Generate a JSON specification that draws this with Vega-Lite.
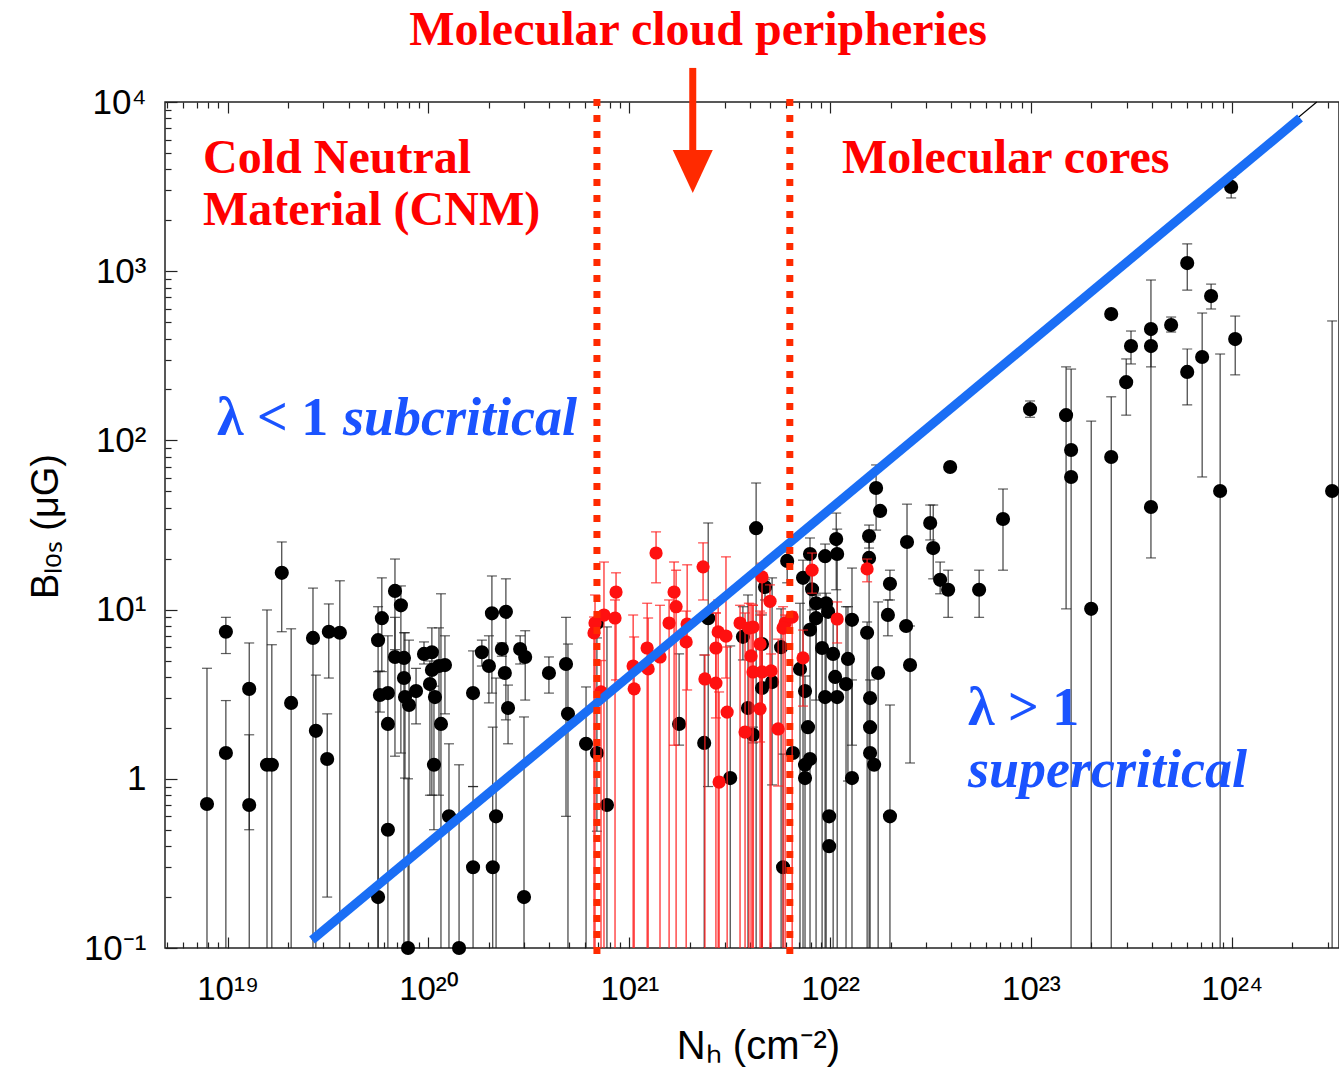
{
  "$schema": "https://vega.github.io/schema/vega-lite/v6.json",
  "width": 1174,
  "height": 846,
  "autosize": "none",
  "padding": {"left": 165, "top": 102, "right": 0, "bottom": 119},
  "background": "white",
  "config": {
    "view": {"stroke": "#222", "strokeWidth": 1.5},
    "axis": {"domain": false, "grid": false, "tickColor": "#222", "tickWidth": 1.2, "labelFont": "Liberation Sans", "labelFontSize": 32, "labelColor": "black", "titleFont": "Liberation Sans", "titleFontWeight": "normal", "titleColor": "black", "labelFlush": false, "labelOverlap": false, "labelBound": false}
  },
  "datasets": {
    "k": [
      {"n":7.89e18,"b":0.71,"lo":0.1,"hi":4.5},{"n":9.8e18,"b":7.4,"lo":5.5,"hi":9.0},{"n":9.8e18,"b":1.42,"lo":0.1,"hi":2.9},
      {"n":1.28e19,"b":3.4,"lo":0.1,"hi":6.35},{"n":1.28e19,"b":0.7,"lo":0.5,"hi":1.82},{"n":1.57e19,"b":1.21,"lo":0.1,"hi":9.95},
      {"n":1.66e19,"b":1.21,"lo":0.1,"hi":6.2},{"n":1.86e19,"b":16.5,"lo":7.4,"hi":25.1},{"n":2.07e19,"b":2.81,"lo":0.1,"hi":7.7},
      {"n":2.66e19,"b":6.8,"lo":0.1,"hi":13.4},{"n":2.75e19,"b":1.92,"lo":0.1,"hi":4.1},{"n":3.19e19,"b":7.4,"lo":3.94,"hi":10.8},
      {"n":3.13e19,"b":1.31,"lo":0.2,"hi":2.42},{"n":3.62e19,"b":7.3,"lo":0.1,"hi":14.8},{"n":5.61e19,"b":6.6,"lo":0.1,"hi":10.4},
      {"n":5.86e19,"b":8.9,"lo":4.3,"hi":15.4},{"n":5.73e19,"b":3.13,"lo":2.48,"hi":4.34},{"n":6.28e19,"b":3.21,"lo":0.1,"hi":7.0},
      {"n":6.28e19,"b":2.11},{"n":6.28e19,"b":0.5},{"n":6.81e19,"b":12.9,"lo":5.8,"hi":19.9},{"n":7.29e19,"b":10.6,"lo":1.42,"hi":13.8},
      {"n":6.81e19,"b":5.25,"lo":1.36,"hi":9.0},{"n":7.55e19,"b":5.18,"lo":0.1,"hi":7.3},{"n":7.55e19,"b":3.94},
      {"n":7.64e19,"b":3.04,"lo":1.01,"hi":7.3},{"n":8.0e19,"b":2.73,"lo":0.1,"hi":6.6},{"n":8.67e19,"b":3.3,"lo":2.11,"hi":4.5},
      {"n":9.5e19,"b":5.47,"lo":4.77,"hi":6.44},{"n":1.04e20,"b":5.6,"lo":0.8,"hi":7.8},{"n":1.04e20,"b":4.4},
      {"n":1.128e20,"b":4.64,"lo":0.8,"hi":7.8},{"n":1.208e20,"b":4.7,"lo":2.42,"hi":7.0},{"n":1.017e20,"b":3.63,"lo":0.8,"hi":4.97},
      {"n":1.077e20,"b":3.04},{"n":1.154e20,"b":2.11,"lo":0.1,"hi":12.4},{"n":1.065e20,"b":1.21,"lo":0.5,"hi":3.53},
      {"n":1.265e20,"b":0.6,"lo":0.1,"hi":1.61},{"n":5.61e19,"b":0.2,"lo":0.1,"hi":4.3},{"n":7.91e19,"b":0.1,"lo":0.1,"hi":1.0},
      {"n":1.42e20,"b":0.1,"lo":0.1,"hi":1.21},{"n":1.667e20,"b":3.21,"lo":0.9,"hi":5.7},{"n":1.667e20,"b":0.3,"lo":0.1,"hi":0.9},
      {"n":1.845e20,"b":5.6,"lo":4.64,"hi":6.6},{"n":2.0e20,"b":4.64,"lo":2.81,"hi":7.0},{"n":2.07e20,"b":9.5,"lo":3.21,"hi":15.8},
      {"n":2.43e20,"b":9.7,"lo":2.23,"hi":15.2},{"n":2.32e20,"b":5.85,"lo":5.3,"hi":6.35},{"n":2.4e20,"b":4.22},
      {"n":2.49e20,"b":2.62,"lo":1.61,"hi":3.58},{"n":2.09e20,"b":0.3,"lo":0.1,"hi":2.02},{"n":2.17e20,"b":0.6,"lo":0.1,"hi":3.94},
      {"n":2.86e20,"b":5.85,"lo":4.77,"hi":7.0},{"n":3.03e20,"b":5.25,"lo":2.92,"hi":7.5},{"n":2.99e20,"b":0.2,"lo":0.1,"hi":2.32},
      {"n":3.98e20,"b":4.22,"lo":3.21,"hi":5.25},{"n":4.84e20,"b":4.77,"lo":0.6,"hi":9.0},{"n":4.95e20,"b":2.42,"lo":0.1,"hi":6.26},
      {"n":6.09e20,"b":1.61,"lo":0.1,"hi":3.49},{"n":6.9e20,"b":1.42,"lo":0.49,"hi":6.8},{"n":7.74e20,"b":0.7,"lo":0.1,"hi":7.9},
      {"n":6.9e20,"b":8.33},{"n":4.28e21,"b":30.3,"lo":0.1,"hi":56},{"n":1.77e21,"b":2.11,"lo":1.58,"hi":5.47},
      {"n":2.36e21,"b":1.63,"lo":0.1,"hi":5.39},{"n":3.18e21,"b":1.01,"lo":0.1,"hi":6.1},{"n":2.47e21,"b":8.9,"lo":0.9,"hi":32.5},
      {"n":3.68e21,"b":6.9,"lo":5.04,"hi":10.4},{"n":4.58e21,"b":6.26,"lo":0.1,"hi":9.3},{"n":5.7e21,"b":6.0,"lo":0.1,"hi":10.1},
      {"n":4.58e21,"b":3.44,"lo":0.1,"hi":15.0},{"n":5.14e21,"b":3.73,"lo":0.92,"hi":15.4},{"n":3.9e21,"b":2.62,"lo":0.1,"hi":12.2},
      {"n":4.13e21,"b":1.82,"lo":1.63,"hi":2.02},{"n":4.74e21,"b":13.6,"lo":11.4,"hi":15.0},{"n":6.11e21,"b":19.4,"lo":14.4,"hi":21.9},
      {"n":6.53e21,"b":1.42},{"n":5.83e21,"b":0.3,"lo":0.1,"hi":1.4},{"n":1.694e22,"b":52.3,"lo":29.5,"hi":71.6},
      {"n":1.774e22,"b":38.3},{"n":1.072e22,"b":26.1,"lo":13.1,"hi":37.2},{"n":1.563e22,"b":27.2,"lo":23.1,"hi":31.6},
      {"n":1.563e22,"b":20.2,"lo":0.1,"hi":25.1},{"n":7.94e21,"b":21.3,"lo":0.1,"hi":26.5},{"n":9.44e21,"b":20.7,"lo":0.1,"hi":24.4},
      {"n":1.084e22,"b":21.3,"lo":0.1,"hi":29.9},{"n":7.33e21,"b":15.4,"lo":0.1,"hi":19.6},{"n":8.13e21,"b":13.2,"lo":9.95,"hi":17.1},
      {"n":8.51e21,"b":10.9,"lo":0.1,"hi":12.5},{"n":9.55e21,"b":10.9,"lo":0.1,"hi":12.5},{"n":8.51e21,"b":8.9,"lo":2.92,"hi":12.2},
      {"n":9.77e21,"b":9.7},{"n":1.285e22,"b":8.7,"lo":1.58,"hi":17.6},{"n":1.528e22,"b":7.3,"lo":0.1,"hi":8.45},
      {"n":7.94e21,"b":7.6},{"n":9.12e21,"b":5.93,"lo":0.1,"hi":10.1},{"n":1.035e22,"b":5.47,"lo":0.1,"hi":9.4},
      {"n":1.227e22,"b":5.11,"lo":0.97,"hi":10.4},{"n":1.059e22,"b":4.0},{"n":1.2e22,"b":3.63,"lo":0.1,"hi":10.4},
      {"n":1.734e22,"b":4.22,"lo":0.1,"hi":11.1},{"n":7.08e21,"b":4.46,"lo":0.1,"hi":10.9},{"n":7.5e21,"b":3.3,"lo":0.1,"hi":4.05},
      {"n":9.44e21,"b":3.04},{"n":1.084e22,"b":3.04},{"n":1.581e22,"b":3.0,"lo":0.1,"hi":3.84},
      {"n":7.76e21,"b":2.02},{"n":1.581e22,"b":2.02},{"n":7.5e21,"b":1.21},{"n":7.94e21,"b":1.31},{"n":7.5e21,"b":1.01},
      {"n":1.581e22,"b":1.42},{"n":1.656e22,"b":1.21},{"n":1.285e22,"b":1.01,"lo":0.1,"hi":3.84},{"n":9.89e21,"b":0.6},
      {"n":9.89e21,"b":0.4},{"n":1.986e22,"b":0.6,"lo":0.1,"hi":2.73},{"n":1.986e22,"b":14.2,"lo":11.4,"hi":17.1},
      {"n":1.94e22,"b":9.3,"lo":7.0,"hi":11.4},{"n":2.415e22,"b":25.1,"lo":8.0,"hi":42},{"n":2.39e22,"b":8.0},
      {"n":2.5e22,"b":4.7,"lo":1.24,"hi":8.0},{"n":3.15e22,"b":32.5,"lo":25.8,"hi":41.5},{"n":3.26e22,"b":23.1,"lo":15.2,"hi":41.5},
      {"n":3.53e22,"b":15.0,"lo":12.4,"hi":19.1},{"n":3.87e22,"b":13.1,"lo":9.0,"hi":17.1},{"n":5.52e22,"b":13.1,"lo":9.0,"hi":17.1},
      {"n":7.26e22,"b":34.3,"lo":17.1,"hi":51.6},{"n":3.96e22,"b":69.6},{"n":9.9e22,"b":153,"lo":137,"hi":171},
      {"n":1.496e23,"b":141,"lo":10.1,"hi":272},{"n":1.585e23,"b":87.7,"lo":0.1,"hi":264},{"n":1.585e23,"b":60.8},
      {"n":2.51e23,"b":79.8,"lo":0.1,"hi":181},{"n":1.995e23,"b":10.1,"lo":0.1,"hi":130},{"n":3.96e23,"b":40.4,"lo":20.2,"hi":361},
      {"n":8.75e23,"b":50.2,"lo":0.1,"hi":324},{"n":3.16e24,"b":50.2,"lo":0.1,"hi":508},{"n":9.93e23,"b":3148,"lo":2710,"hi":3606},
      {"n":6.0e23,"b":1117,"lo":774,"hi":1449},{"n":7.89e23,"b":713,"lo":598,"hi":839},{"n":2.51e23,"b":558},
      {"n":3.96e23,"b":455,"lo":361,"hi":887},{"n":3.96e23,"b":361,"lo":272,"hi":455},{"n":4.99e23,"b":481,"lo":437,"hi":536},
      {"n":3.15e23,"b":361,"lo":283,"hi":443},{"n":2.98e23,"b":221,"lo":141,"hi":303},{"n":6.0e23,"b":254,"lo":162,"hi":347},
      {"n":7.12e23,"b":311,"lo":60.8,"hi":566},{"n":1.04e24,"b":397,"lo":244,"hi":543}
    ],
    "r": [
      {"n":6.67e20,"b":7.28,"lo":0.1,"hi":9.04},{"n":6.75e20,"b":8.33,"lo":0.1,"hi":12.2},{"n":7.48e20,"b":9.29,"lo":0.1,"hi":19.1},
      {"n":8.59e20,"b":12.7,"lo":3.84,"hi":16.5},{"n":8.49e20,"b":8.92,"lo":0.1,"hi":11.4},{"n":7.23e20,"b":3.26,"lo":0.1,"hi":5.0},
      {"n":1.045e21,"b":4.64,"lo":0.1,"hi":9.29},{"n":1.057e21,"b":3.4,"lo":0.1,"hi":6.89},{"n":1.227e21,"b":5.93,"lo":0.1,"hi":10.9},
      {"n":1.241e21,"b":4.46,"lo":0.1,"hi":8.92},{"n":1.359e21,"b":21.6,"lo":14.4,"hi":28.8},{"n":1.671e21,"b":12.7,"lo":1.58,"hi":19.1},
      {"n":1.71e21,"b":10.4,"lo":0.1,"hi":17.1},{"n":1.578e21,"b":8.33,"lo":0.1,"hi":11.4},{"n":1.941e21,"b":8.22,"lo":3.35,"hi":18.4},
      {"n":1.919e21,"b":6.44,"lo":0.1,"hi":9.8},{"n":1.422e21,"b":5.25,"lo":0.1,"hi":10.6},{"n":2.33e21,"b":17.9,"lo":11.4,"hi":24.8},
      {"n":2.38e21,"b":3.89,"lo":0.1,"hi":5.39},{"n":2.7e21,"b":3.68,"lo":0.1,"hi":9.55},{"n":2.7e21,"b":5.93,"lo":2.29,"hi":9.55},
      {"n":2.77e21,"b":7.38,"lo":0.1,"hi":11.4},{"n":3.03e21,"b":6.98,"lo":3.94,"hi":20.5},{"n":3.07e21,"b":2.48,"lo":0.1,"hi":6.01},
      {"n":2.8e21,"b":0.957,"lo":0.1,"hi":3.26},{"n":3.56e21,"b":8.33,"lo":0.1,"hi":10.6},{"n":3.77e21,"b":1.89,"lo":0.1,"hi":9.55},
      {"n":3.94e21,"b":7.78,"lo":0.1,"hi":10.9},{"n":4.04e21,"b":5.32,"lo":0.1,"hi":10.8},{"n":4.13e21,"b":7.89,"lo":0.1,"hi":10.6},
      {"n":4.48e21,"b":6.26,"lo":0.1,"hi":9.8},{"n":4.13e21,"b":4.28,"lo":0.1,"hi":10.6},{"n":4.58e21,"b":4.28,"lo":0.1,"hi":9.55},
      {"n":5.08e21,"b":4.34,"lo":0.1,"hi":5.47},{"n":4.48e21,"b":2.59,"lo":1.65,"hi":9.29},{"n":5.02e21,"b":11.2,"lo":0.1,"hi":14.0},
      {"n":4.58e21,"b":15.6,"lo":0.1,"hi":18.8},{"n":5.51e21,"b":1.97,"lo":0.906,"hi":6.69},{"n":5.97e21,"b":8.33,"lo":0.1,"hi":9.29},
      {"n":6.47e21,"b":9.04,"lo":0.1,"hi":9.68},{"n":7.33e21,"b":5.18,"lo":2.69,"hi":7.57},{"n":8.13e21,"b":17.1,"lo":12.5,"hi":21.6},
      {"n":1.528e22,"b":17.4,"lo":14.6,"hi":19.9},{"n":1.084e22,"b":8.8,"lo":6.35,"hi":11.1},{"n":5.83e21,"b":7.78,"lo":0.1,"hi":10.4}
    ]
  },
  "resolve": {"axis": {"x": "independent", "y": "independent"}},
  "layer": [
    {
      "data": {"name": "k"},
      "transform": [{"filter": "isValid(datum.hi)"}],
      "mark": {"type": "rule", "stroke": "#1a1a1a", "strokeWidth": 1},
      "encoding": {
        "x": {"field": "n", "type": "quantitative", "scale": {"type": "log", "domain": [4.875e18, 3.42e24], "nice": false},
              "axis": {"orient": "bottom", "values": [5e18,6e18,7e18,8e18,9e18,2e19,3e19,4e19,5e19,6e19,7e19,8e19,9e19,2e20,3e20,4e20,5e20,6e20,7e20,8e20,9e20,2e21,3e21,4e21,5e21,6e21,7e21,8e21,9e21,2e22,3e22,4e22,5e22,6e22,7e22,8e22,9e22,2e23,3e23,4e23,5e23,6e23,7e23,8e23,9e23,2e24,3e24], "labels": false, "tickSize": -6, "title": null}},
        "y": {"field": "lo", "type": "quantitative", "scale": {"type": "log", "domain": [0.1, 10000], "nice": false},
              "axis": {"orient": "left", "values": [0.2,0.3,0.4,0.5,0.6,0.7,0.8,0.9,2,3,4,5,6,7,8,9,20,30,40,50,60,70,80,90,200,300,400,500,600,700,800,900,2000,3000,4000,5000,6000,7000,8000,9000], "labels": false, "tickSize": -6, "title": null}},
        "y2": {"field": "hi"}
      }
    },
    {
      "data": {"name": "k"},
      "transform": [{"fold": ["lo", "hi"], "as": ["key", "val"]}, {"filter": "isValid(datum.val) && datum.val > 0.1001"}],
      "mark": {"type": "tick", "orient": "horizontal", "size": 10, "thickness": 1.2, "color": "#1a1a1a"},
      "encoding": {
        "x": {"field": "n", "type": "quantitative", "axis": null},
        "y": {"field": "val", "type": "quantitative", "axis": null}
      }
    },
    {
      "data": {"name": "k"},
      "mark": {"type": "circle", "size": 200, "color": "black", "opacity": 1},
      "encoding": {
        "x": {"field": "n", "type": "quantitative",
              "axis": {"orient": "bottom", "values": [1e19,1e20,1e21,1e22,1e23,1e24], "tickSize": -11, "labelPadding": 36, "labelFontSize": 33,
                       "labelExpr": "datum.value == 1e19 ? '10¹⁹' : datum.value == 1e20 ? '10²⁰' : datum.value == 1e21 ? '10²¹' : datum.value == 1e22 ? '10²²' : datum.value == 1e23 ? '10²³' : '10²⁴'",
                       "title": "Nₕ (cm⁻²)", "titleFontSize": 40, "titleX": 593, "titleY": 110, "titleBaseline": "alphabetic", "titleAlign": "center"}},
        "y": {"field": "b", "type": "quantitative",
              "axis": {"orient": "left", "values": [0.1,1,10,100,1000,10000], "tickSize": -12, "labelPadding": 31, "labelFontSize": 35,
                       "labelExpr": "datum.value == 0.1 ? '10⁻¹' : datum.value == 1 ? '1' : datum.value == 10 ? '10¹' : datum.value == 100 ? '10²' : datum.value == 1000 ? '10³' : '10⁴'",
                       "labelBaseline": "middle",
                       "title": "Bₗₒₛ (μG)", "titleFontSize": 38, "titleAngle": -90, "titleX": -108, "titleY": 424, "titleBaseline": "alphabetic", "titleAlign": "center"}}
      }
    },
    {
      "data": {"name": "r"},
      "transform": [{"filter": "isValid(datum.hi)"}],
      "mark": {"type": "rule", "stroke": "#ff2020", "strokeWidth": 1.2},
      "encoding": {
        "x": {"field": "n", "type": "quantitative",
              "axis": {"orient": "top", "values": [5e18,6e18,7e18,8e18,9e18,2e19,3e19,4e19,5e19,6e19,7e19,8e19,9e19,2e20,3e20,4e20,5e20,6e20,7e20,8e20,9e20,2e21,3e21,4e21,5e21,6e21,7e21,8e21,9e21,2e22,3e22,4e22,5e22,6e22,7e22,8e22,9e22,2e23,3e23,4e23,5e23,6e23,7e23,8e23,9e23,2e24,3e24], "labels": false, "tickSize": -6, "title": null}},
        "y": {"field": "lo", "type": "quantitative", "axis": null},
        "y2": {"field": "hi"}
      }
    },
    {
      "data": {"name": "r"},
      "transform": [{"fold": ["lo", "hi"], "as": ["key", "val"]}, {"filter": "isValid(datum.val) && datum.val > 0.1001"}],
      "mark": {"type": "tick", "orient": "horizontal", "size": 10, "thickness": 1.4, "color": "#ff2020"},
      "encoding": {
        "x": {"field": "n", "type": "quantitative", "axis": null},
        "y": {"field": "val", "type": "quantitative", "axis": null}
      }
    },
    {
      "data": {"name": "r"},
      "mark": {"type": "circle", "size": 175, "color": "#ff1010", "opacity": 1},
      "encoding": {
        "x": {"field": "n", "type": "quantitative",
              "axis": {"orient": "top", "values": [1e19,1e20,1e21,1e22,1e23,1e24], "labels": false, "tickSize": -11, "title": null}},
        "y": {"field": "b", "type": "quantitative", "axis": null}
      }
    },
    {
      "data": {"values": [{"n": 2.63e19, "b": 0.1114}, {"n": 2.65e24, "b": 10000}]},
      "mark": {"type": "line", "color": "black", "strokeWidth": 1.2},
      "encoding": {
        "x": {"field": "n", "type": "quantitative", "axis": null},
        "y": {"field": "b", "type": "quantitative", "axis": null}
      }
    },
    {
      "data": {"values": [{"n": 2.63e19, "b": 0.1114}, {"n": 2.188e24, "b": 8040}]},
      "mark": {"type": "line", "color": "#1a6ef5", "strokeWidth": 9, "strokeCap": "butt"},
      "encoding": {
        "x": {"field": "n", "type": "quantitative", "axis": null},
        "y": {"field": "b", "type": "quantitative", "axis": null}
      }
    },
    {
      "data": {"values": [{"n": 6.9e20, "top": 10400, "bottom": 0.09}, {"n": 6.3e21, "top": 10400, "bottom": 0.09}]},
      "mark": {"type": "rule", "color": "#ff2a00", "strokeWidth": 7, "strokeDash": [7, 9]},
      "encoding": {
        "x": {"field": "n", "type": "quantitative", "axis": null},
        "y": {"field": "top", "type": "quantitative", "axis": null},
        "y2": {"field": "bottom"}
      }
    },
    {
      "data": {"values": [{"n": 2.07e21, "top": 15900, "bottom": 4860}]},
      "mark": {"type": "rule", "color": "#ff2a00", "strokeWidth": 7},
      "encoding": {
        "x": {"field": "n", "type": "quantitative", "axis": null},
        "y": {"field": "top", "type": "quantitative", "axis": null},
        "y2": {"field": "bottom"}
      }
    },
    {
      "data": {"values": [{"n": 2.07e21, "b": 3880}]},
      "mark": {"type": "point", "shape": "M-1,-1.075L1,-1.075L0,1.075Z", "size": 1600, "filled": true, "color": "#ff2a00", "opacity": 1, "strokeWidth": 0},
      "encoding": {
        "x": {"field": "n", "type": "quantitative", "axis": null},
        "y": {"field": "b", "type": "quantitative", "axis": null}
      }
    },
    {
      "data": {"values": [{"t": "Molecular cloud peripheries", "n": 2.2e21, "b": 21700}]},
      "mark": {"type": "text", "font": "Liberation Serif", "fontWeight": "bold", "fontSize": 48, "color": "#ff0000", "align": "center", "baseline": "alphabetic"},
      "encoding": {
        "x": {"field": "n", "type": "quantitative", "axis": null},
        "y": {"field": "b", "type": "quantitative", "axis": null},
        "text": {"field": "t"}
      }
    },
    {
      "data": {"values": [
        {"t": "Cold Neutral", "n": 7.54e18, "b": 3800},
        {"t": "Material (CNM)", "n": 7.54e18, "b": 1875},
        {"t": "Molecular cores", "n": 1.145e22, "b": 3800}
      ]},
      "mark": {"type": "text", "font": "Liberation Serif", "fontWeight": "bold", "fontSize": 48, "color": "#ff0000", "align": "left", "baseline": "alphabetic"},
      "encoding": {
        "x": {"field": "n", "type": "quantitative", "axis": null},
        "y": {"field": "b", "type": "quantitative", "axis": null},
        "text": {"field": "t"}
      }
    },
    {
      "data": {"values": [
        {"t": "λ < 1", "n": 8.85e18, "b": 107.7},
        {"t": "λ > 1", "n": 4.86e22, "b": 2.08}
      ]},
      "mark": {"type": "text", "font": "Liberation Serif", "fontWeight": "bold", "fontSize": 54, "color": "#1a53ff", "align": "left", "baseline": "alphabetic"},
      "encoding": {
        "x": {"field": "n", "type": "quantitative", "axis": null},
        "y": {"field": "b", "type": "quantitative", "axis": null},
        "text": {"field": "t"}
      }
    },
    {
      "data": {"values": [
        {"t": "subcritical", "n": 3.75e19, "b": 107.7},
        {"t": "supercritical", "n": 4.86e22, "b": 0.895}
      ]},
      "mark": {"type": "text", "font": "Liberation Serif", "fontWeight": "bold", "fontStyle": "italic", "fontSize": 54, "color": "#1a53ff", "align": "left", "baseline": "alphabetic"},
      "encoding": {
        "x": {"field": "n", "type": "quantitative", "axis": null},
        "y": {"field": "b", "type": "quantitative", "axis": null},
        "text": {"field": "t"}
      }
    }
  ]
}
